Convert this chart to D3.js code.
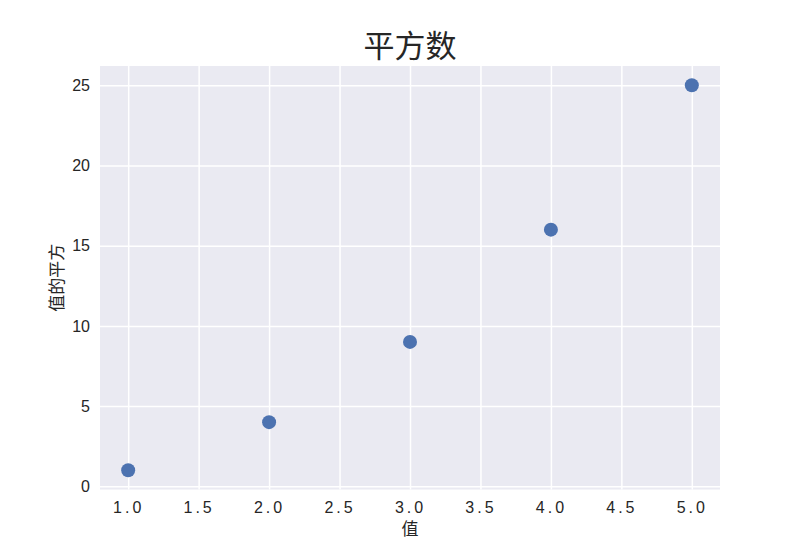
<!DOCTYPE html>
<html><head><meta charset="utf-8">
<script src="https://cdn.jsdelivr.net/npm/d3@7"></script>
<style>body{margin:0;background:#fff;} text{font-family:"Noto Sans CJK SC","DejaVu Sans",sans-serif;fill:#262626;}</style>
</head><body>
<script>
const xValues = [1, 2, 3, 4, 5];
const yValues = [1, 4, 9, 16, 25];
const xTicks = [1.0, 1.5, 2.0, 2.5, 3.0, 3.5, 4.0, 4.5, 5.0];
const yTicks = [0, 5, 10, 15, 20, 25];
const title = "平方数";
const xLabel = "值";
const yLabel = "值的平方";

const W = 800, H = 550;
const m = {left: 100, right: 80, top: 66, bottom: 60.5};
const svg = d3.select("body").append("svg").attr("width", W).attr("height", H);
const x = d3.scaleLinear().domain([0.8, 5.2]).range([m.left, W - m.right]);
const y = d3.scaleLinear().domain([-0.2, 26.2]).range([H - m.bottom, m.top]);

svg.append("rect").attr("x", m.left).attr("y", m.top)
  .attr("width", W - m.left - m.right).attr("height", H - m.top - m.bottom)
  .attr("fill", "#eaeaf2");

const gx = svg.append("g").attr("transform", `translate(0,${H - m.bottom})`)
  .call(d3.axisBottom(x).tickValues(xTicks).tickFormat(d3.format(".1f")).tickSize(-(H - m.top - m.bottom)).tickPadding(12));
const gy = svg.append("g").attr("transform", `translate(${m.left},0)`)
  .call(d3.axisLeft(y).tickValues(yTicks).tickFormat(d3.format("d")).tickSize(-(W - m.left - m.right)).tickPadding(10));
[gx, gy].forEach(g => {
  g.select(".domain").remove();
  g.selectAll(".tick line").attr("stroke", "#fff").attr("stroke-width", 1.5);
  g.selectAll(".tick text").attr("font-size", 16).attr("fill", "#262626")
    .style("font-family", '"Liberation Sans", Arial, sans-serif');
});
gx.selectAll(".tick text").attr("letter-spacing", 3);

svg.append("g").selectAll("circle").data(xValues).join("circle")
  .attr("cx", d => x(d)).attr("cy", (d, i) => y(yValues[i])).attr("r", 7)
  .attr("fill", "#4c72b0");

svg.append("text").attr("x", (m.left + W - m.right) / 2).attr("y", 57)
  .attr("text-anchor", "middle").attr("font-size", 31).text(title);
svg.append("text").attr("x", (m.left + W - m.right) / 2).attr("y", 535)
  .attr("text-anchor", "middle").attr("font-size", 17).text(xLabel);
svg.append("text").attr("transform", `translate(63,${(m.top + H - m.bottom) / 2}) rotate(-90)`)
  .attr("text-anchor", "middle").attr("font-size", 17).text(yLabel);
</script>
</body></html>
